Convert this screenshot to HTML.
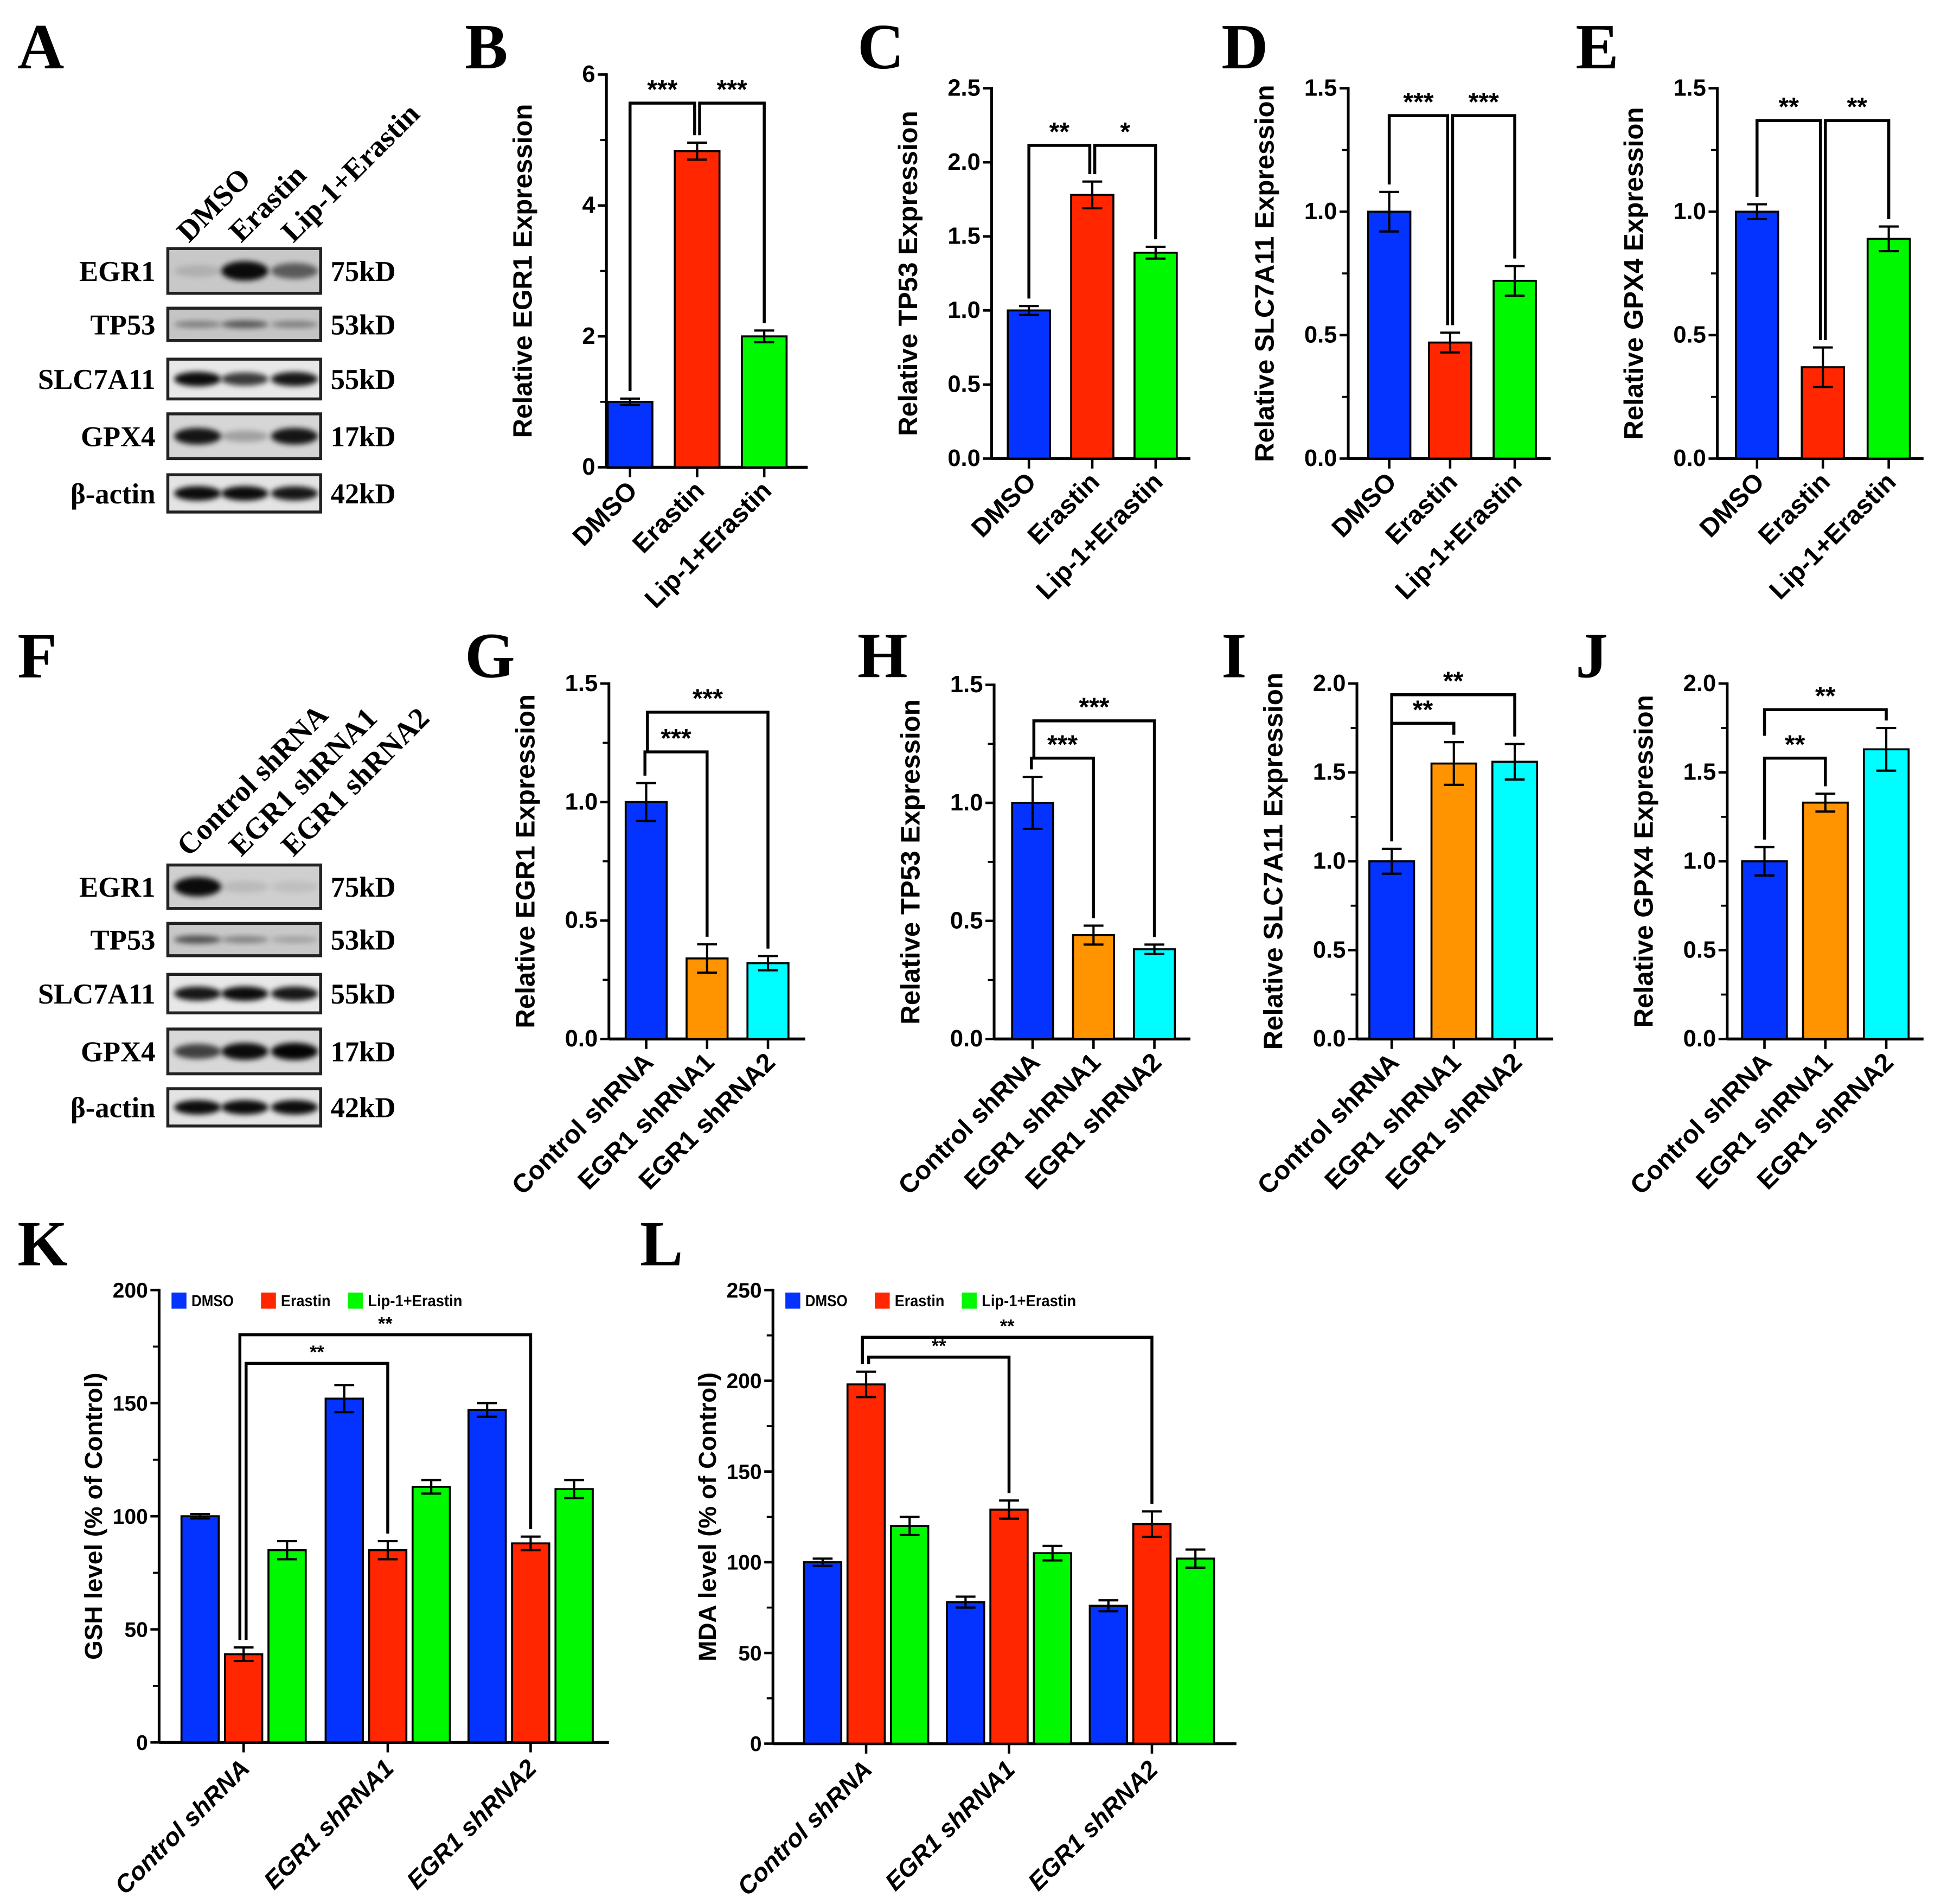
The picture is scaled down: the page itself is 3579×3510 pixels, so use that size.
<!DOCTYPE html>
<html><head><meta charset="utf-8"><style>
html,body{margin:0;padding:0;background:#fff}
svg{display:block}
.t{font-family:"Liberation Sans",Arial,sans-serif;font-weight:bold}
.s{font-family:"Liberation Serif","Times New Roman",serif;font-weight:bold}
</style></head><body>
<svg id="fig" width="3579" height="3510" viewBox="0 0 1562 1532" xmlns="http://www.w3.org/2000/svg">
<defs><filter id="blur" x="-20%" y="-50%" width="140%" height="200%"><feGaussianBlur stdDeviation="2.2"/></filter></defs>
<g id="root"></g>
</svg>
<script>
// ---------- data ----------
const catsA = ["DMSO","Erastin","Lip-1+Erastin"];
const catsS = ["Control shRNA","EGR1 shRNA1","EGR1 shRNA2"];
const valsB = [1.0, 4.83, 2.0];   const errB = [0.05, 0.13, 0.09];
const valsC = [1.0, 1.78, 1.39];  const errC = [0.03, 0.09, 0.04];
const valsD = [1.0, 0.47, 0.72];  const errD = [0.08, 0.04, 0.06];
const valsE = [1.0, 0.37, 0.89];  const errE = [0.03, 0.08, 0.05];
const valsG = [1.0, 0.34, 0.32];  const errG = [0.08, 0.06, 0.03];
const valsH = [1.0, 0.44, 0.38];  const errH = [0.11, 0.04, 0.02];
const valsI = [1.0, 1.55, 1.56];  const errI = [0.07, 0.12, 0.10];
const valsJ = [1.0, 1.33, 1.63];  const errJ = [0.08, 0.05, 0.12];
const groupSeries = ["DMSO","Erastin","Lip-1+Erastin"];
const gshDMSO = [100, 152, 147];  const gshDMSOerr = [1, 6, 3];
const gshEra  = [39, 85, 88];     const gshEraErr = [3, 4, 3];
const gshLip  = [85, 113, 112];   const gshLipErr = [4, 3, 4];
const mdaDMSO = [100, 78, 76];    const mdaDMSOerr = [2, 3, 3];
const mdaEra  = [198, 129, 121];  const mdaEraErr = [7, 5, 7];
const mdaLip  = [120, 105, 102];  const mdaLipErr = [5, 4, 5];
const ticksB = [0,2,4,6]; const ticksC = [0,0.5,1.0,1.5,2.0,2.5];
const ticks15 = [0,0.5,1.0,1.5]; const ticks20 = [0,0.5,1.0,1.5,2.0];
const ticksK = [0,50,100,150,200]; const ticksL = [0,50,100,150,200,250];

const NS="http://www.w3.org/2000/svg";
const root=document.getElementById('root');
const BL="#0433ff",RD="#ff2600",GR="#00f900",OR="#ff9300",CY="#00fdff";
function el(tag,attrs,parent,text){const e=document.createElementNS(NS,tag);for(const k in attrs)e.setAttribute(k,attrs[k]);if(text!==undefined)e.textContent=text;(parent||root).appendChild(e);return e;}

function yAxis(g,x0,yTop,yBot,max,ticks,minor,dec,fs){
  const sy=v=>yBot-(v/max)*(yBot-yTop);
  const ax=el('line',{x1:x0,y1:yTop-1,x2:x0,y2:yBot,stroke:'#000','stroke-width':2.2},g);
  
  
  ticks.forEach(v=>{
    el('line',{x1:x0-7,y1:sy(v),x2:x0,y2:sy(v),stroke:'#000','stroke-width':2},g);
    const t=el('text',{x:x0-9,y:sy(v)+6,'text-anchor':'end','class':'t','font-size':fs||19},g,dec?v.toFixed(1):String(v));
    
    
  });
  if(minor) for(let i=0;i<ticks.length-1;i++){const m=(ticks[i]+ticks[i+1])/2;el('line',{x1:x0-5,y1:sy(m),x2:x0,y2:sy(m),stroke:'#000','stroke-width':1.6},g);}
  return sy;
}
function bar(g,cx,w,y0,y1,col,ytopErr,ybotErr,name){
  const r=el('rect',{x:cx-w/2,y:y1,width:w,height:y0-y1,fill:col,stroke:'#000','stroke-width':1.6},g);
  
  
  el('line',{x1:cx,y1:ytopErr,x2:cx,y2:ybotErr,stroke:'#000','stroke-width':1.8},g);
  el('line',{x1:cx-8,y1:ytopErr,x2:cx+8,y2:ytopErr,stroke:'#000','stroke-width':1.8},g);
  el('line',{x1:cx-8,y1:ybotErr,x2:cx+8,y2:ybotErr,stroke:'#000','stroke-width':1.8},g);
}
function bracket(g,xa,ya,xb,yb,y,stars,fs){
  el('path',{d:`M${xa} ${ya} V${y} H${xb} V${yb}`,fill:'none',stroke:'#000','stroke-width':2.4},g);
  const s=el('text',{x:(xa+xb)/2,y:y-4,'text-anchor':'middle','class':'t','font-size':fs||21},g,stars);
  
  
}
function simplePanel(o){
  const g=el('g',{});
  
  
  const sy=yAxis(g,o.x0,o.yTop,o.yBot,o.max,o.ticks,o.minor,o.dec);
  el('line',{x1:o.x0,y1:o.yBot,x2:o.xEnd,y2:o.yBot,stroke:'#000','stroke-width':2.4},g);
  const tops=[];
  o.vals.forEach((v,i)=>{
    const cx=o.centers[i];
    bar(g,cx,o.bw,o.yBot,sy(v),o.colors[i],sy(v+o.errs[i]),sy(v-o.errs[i]),'bar-'+o.cats[i].toLowerCase().replace(/[^a-z0-9]+/g,'-'));
    tops.push(sy(v+o.errs[i])-6);
    el('line',{x1:cx,y1:o.yBot,x2:cx,y2:o.yBot+8,stroke:'#000','stroke-width':2},g);
    const t=el('text',{x:cx+7,y:o.yBot+20,'text-anchor':'end','class':'t','font-size':21,transform:`rotate(-45 ${cx+7} ${o.yBot+20})`},g,o.cats[i]);
    
    
  });
  const yl=el('text',{x:0,y:0,'text-anchor':'middle','class':'t','font-size':21.5,transform:`translate(${o.x0-o.ylOff} ${(o.yTop+o.yBot)/2}) rotate(-90)`},g,o.ylabel);
  
  
  o.br.forEach(b=>{
    const xa=o.centers[b[0]]+(b[4]||0),xb=o.centers[b[1]]+(b[5]||0);
    bracket(g,xa,b[6]!==undefined?b[6]:tops[b[0]],xb,tops[b[1]],b[2],b[3]);
  });
}
function letter(x,y,L){const t=el('text',{x:x,y:y,'class':'s','font-size':52},root,L);}

[['A',14,55],['B',374,55],['C',690,55],['D',983,55],['E',1268,55],['F',14,545],['G',374,545],['H',690,545],['I',983,545],['J',1268,545],['K',14,1018],['L',515,1018]].forEach(a=>letter(a[1],a[2],a[0]));

simplePanel({name:'chart-b-egr1',x0:488,yTop:60,yBot:376,xEnd:650,max:6,ticks:ticksB,minor:true,dec:false,centers:[507,561,615],bw:36,vals:valsB,errs:errB,colors:[BL,RD,GR],cats:catsA,ylabel:'Relative EGR1 Expression',ylOff:60,br:[[0,1,83,'***',0,-2],[1,2,83,'***',2,0]]});
simplePanel({name:'chart-c-tp53',x0:798,yTop:71,yBot:369,xEnd:958,max:2.5,ticks:ticksC,minor:false,dec:true,centers:[828,879,930],bw:34,vals:valsC,errs:errC,colors:[BL,RD,GR],cats:catsA,ylabel:'Relative TP53 Expression',ylOff:60,br:[[0,1,117,'**',0,-2],[1,2,117,'*',2,0]]});
simplePanel({name:'chart-d-slc7a11',x0:1085,yTop:71,yBot:369,xEnd:1248,max:1.5,ticks:ticks15,minor:true,dec:true,centers:[1118,1167,1219],bw:34,vals:valsD,errs:errD,colors:[BL,RD,GR],cats:catsA,ylabel:'Relative SLC7A11 Expression',ylOff:60,br:[[0,1,93,'***',0,-2],[1,2,93,'***',2,0]]});
simplePanel({name:'chart-e-gpx4',x0:1382,yTop:71,yBot:369,xEnd:1548,max:1.5,ticks:ticks15,minor:true,dec:true,centers:[1414,1467,1520],bw:34,vals:valsE,errs:errE,colors:[BL,RD,GR],cats:catsA,ylabel:'Relative GPX4 Expression',ylOff:60,br:[[0,1,97,'**',0,-2],[1,2,97,'**',2,0]]});
simplePanel({name:'chart-g-egr1',x0:490,yTop:550,yBot:836,xEnd:648,max:1.5,ticks:ticks15,minor:true,dec:true,centers:[520,569,618],bw:33,vals:valsG,errs:errG,colors:[BL,OR,CY],cats:catsS,ylabel:'Relative EGR1 Expression',ylOff:60,br:[[0,1,605,'***',-1,0],[0,2,573,'***',1,0,605]]});
simplePanel({name:'chart-h-tp53',x0:800,yTop:551,yBot:836,xEnd:958,max:1.5,ticks:ticks15,minor:true,dec:true,centers:[831,880,929],bw:33,vals:valsH,errs:errH,colors:[BL,OR,CY],cats:catsS,ylabel:'Relative TP53 Expression',ylOff:60,br:[[0,1,610,'***',-1,0],[0,2,580,'***',1,0,610]]});
simplePanel({name:'chart-i-slc7a11',x0:1092,yTop:550,yBot:836,xEnd:1250,max:2.0,ticks:ticks20,minor:true,dec:true,centers:[1120,1170,1219],bw:36,vals:valsI,errs:errI,colors:[BL,OR,CY],cats:catsS,ylabel:'Relative SLC7A11 Expression',ylOff:60,br:[[0,1,582,'**'],[0,2,559,'**',0,0,582]]});
simplePanel({name:'chart-j-gpx4',x0:1390,yTop:550,yBot:836,xEnd:1548,max:2.0,ticks:ticks20,minor:true,dec:true,centers:[1420,1469,1518],bw:36,vals:valsJ,errs:errJ,colors:[BL,OR,CY],cats:catsS,ylabel:'Relative GPX4 Expression',ylOff:60,br:[[0,1,610,'**'],[0,2,571,'**',0,0,592]]});

function groupPanel(o){
  const g=el('g',{});
  
  
  const sy=yAxis(g,o.x0,o.yTop,o.yBot,o.max,o.ticks,true,false,17);
  el('line',{x1:o.x0,y1:o.yBot,x2:o.xEnd,y2:o.yBot,stroke:'#000','stroke-width':2.4},g);
  const cols=[BL,RD,GR];
  const tops={};
  o.centers.forEach((gc,i)=>{
    o.series.forEach((s,j)=>{
      const cx=gc+(j-1)*35, v=s[i], e=o.errs[j][i];
      bar(g,cx,30,o.yBot,sy(v),cols[j],sy(v+e),sy(v-e),'bar-'+groupSeries[j].toLowerCase().replace(/[^a-z0-9]+/g,'-')+'-'+(i+1));
      tops[i+'_'+j]=sy(v+e)-6;
    });
    el('line',{x1:gc,y1:o.yBot,x2:gc,y2:o.yBot+8,stroke:'#000','stroke-width':2},g);
    const t=el('text',{x:gc+6,y:o.yBot+22,'text-anchor':'end','class':'t','font-size':20,'font-style':'italic',transform:`rotate(-45 ${gc+6} ${o.yBot+22})`},g,catsS[i]);
    
    
  });
  const yl=el('text',{x:0,y:0,'text-anchor':'middle','class':'t','font-size':20,transform:`translate(${o.x0-46} ${(o.yTop+o.yBot)/2}) rotate(-90)`},g,o.ylabel);
  
  
  groupSeries.forEach((n,j)=>{
    const lx=o.x0+10+[0,72,142][j];
    const lg=el('g',{},g);
    
    
    el('rect',{x:lx,y:o.yTop+2,width:12,height:13,fill:cols[j]},lg);
    el('text',{x:lx+16,y:o.yTop+13,'class':'t','font-size':13,textLength:[34,40,76][j],lengthAdjust:'spacingAndGlyphs'},lg,n);
  });
  o.br.forEach(b=>{
    bracket(g,o.centers[0]+b[2],tops['0_'+o.ref],o.centers[b[0]],tops[b[0]+'_1'],b[1],'**',15);
  });
}
groupPanel({name:'chart-k-gsh',x0:128,yTop:1038,yBot:1402,xEnd:490,max:200,ticks:ticksK,centers:[196,312,427],series:[gshDMSO,gshEra,gshLip],errs:[gshDMSOerr,gshEraErr,gshLipErr],ylabel:'GSH level (% of Control)',ref:1,br:[[2,1074,-3],[1,1097,2]]});
groupPanel({name:'chart-l-mda',x0:622,yTop:1038,yBot:1403,xEnd:995,max:250,ticks:ticksL,centers:[697,812,927],series:[mdaDMSO,mdaEra,mdaLip],errs:[mdaDMSOerr,mdaEraErr,mdaLipErr],ylabel:'MDA level (% of Control)',ref:1,br:[[2,1076,-3],[1,1092,2]]});

function blot(name,yLab,rows){
  const g=el('g',{});
  
  
  yLab.forEach((lab,k)=>{
    const t=el('text',{x:0,y:0,'class':'s','font-size':24,transform:`translate(${152+k*42} ${yLab.y}) rotate(-45)`},g,lab);
    
    
  });
  rows.forEach(r=>{
    const [lab,kd,y0,h,bg,ints,thick]=r;
    const box=el('rect',{x:135,y:y0,width:123,height:h,fill:bg,stroke:'#222','stroke-width':2.4},g);
    
    
    [159,197,237].forEach((cx,k)=>{
      if(ints[k]>0) el('ellipse',{cx:cx,cy:y0+h/2,rx:19,ry:thick*(0.55+0.45*ints[k]),fill:'#000','fill-opacity':ints[k],filter:'url(#blur)'},g);
    });
    const l=el('text',{x:125,y:y0+h/2+8,'text-anchor':'end','class':'s','font-size':23},g,lab);
    
    
    const k2=el('text',{x:266,y:y0+h/2+8,'class':'s','font-size':23},g,kd);
    
    
  });
}
const labsA=["DMSO","Erastin","Lip-1+Erastin"]; labsA.y=196;
blot('western-blot-a',labsA,[
 ['EGR1','75kD',200,36,'#c8c8c8',[0.12,0.95,0.55],8],
 ['TP53','53kD',248,26,'#c4c4c4',[0.35,0.55,0.35],4],
 ['SLC7A11','55kD',289,32,'#e8e8e8',[0.95,0.75,0.9],6],
 ['GPX4','17kD',333,36,'#d6d6d6',[0.9,0.25,0.9],7],
 ['β-actin','42kD',382,30,'#e4e4e4',[0.95,0.95,0.9],6]]);
const labsF=["Control shRNA","EGR1 shRNA1","EGR1 shRNA2"]; labsF.y=690;
blot('western-blot-f',labsF,[
 ['EGR1','75kD',696,35,'#cfcfcf',[0.95,0.1,0.08],8],
 ['TP53','53kD',743,26,'#c8c8c8',[0.6,0.35,0.2],4],
 ['SLC7A11','55kD',784,31,'#e8e8e8',[0.9,0.95,0.9],6],
 ['GPX4','17kD',828,36,'#d8d8d8',[0.7,0.95,0.98],7],
 ['β-actin','42kD',876,30,'#e4e4e4',[0.95,0.95,0.95],6]]);
</script>
</body></html>
